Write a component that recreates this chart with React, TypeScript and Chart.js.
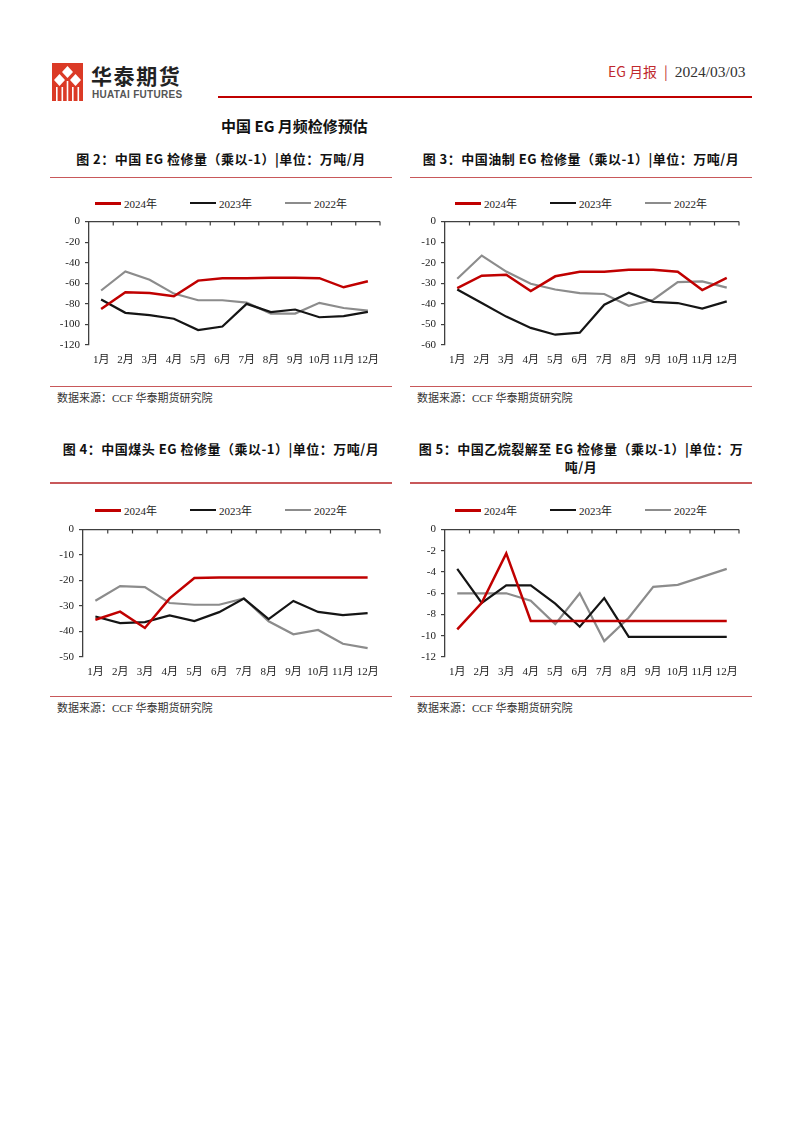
import React, { useEffect, useRef } from "react";
import { Chart, registerables } from "chart.js";

Chart.register(...registerables);

// ---------- data ----------
const months = ["1月", "2月", "3月", "4月", "5月", "6月", "7月", "8月", "9月", "10月", "11月", "12月"];
const seriesNames = ["2024年", "2023年", "2022年"];

// 图2 中国EG检修量（乘以-1）
const eg2024 = [-85, -68.7, -69.4, -72.6, -57.4, -55.2, -55, -54.5, -54.5, -55, -63.9, -58];
const eg2023 = [-75.8, -88.7, -91, -94.5, -105.5, -102, -80, -88, -85.5, -93, -92, -87.8];
const eg2022 = [-67, -48.4, -56.5, -70, -76.5, -76.5, -78.7, -89.4, -89.4, -79, -84, -86.5];

// 图3 中国油制EG检修量
const oil2024 = [-32.3, -26.3, -25.8, -33.8, -26.6, -24.4, -24.4, -23.4, -23.4, -24.4, -33.3, -27.4];
const oil2023 = [-33, -39.6, -46.2, -51.7, -55, -54, -40.4, -34.6, -39, -39.6, -42.3, -38.8];
const oil2022 = [-27.8, -16.5, -24.3, -30.2, -33, -34.8, -35.2, -40.9, -38, -29.4, -29.1, -32.1];

// 图4 中国煤头EG检修量
const coal2024 = [-35.4, -32.2, -38.6, -27, -19, -18.8, -18.8, -18.8, -18.8, -18.8, -18.8, -18.8];
const coal2023 = [-34.1, -36.7, -36.3, -33.7, -35.9, -32.4, -27.1, -35.1, -28, -32.3, -33.6, -32.8];
const coal2022 = [-27.9, -22.2, -22.6, -28.8, -29.5, -29.5, -27, -36, -41.1, -39.4, -44.8, -46.5];

// 图5 中国乙烷裂解至EG检修量
const eth2024 = [-9.4, -6.9, -2.24, -8.6, -8.6, -8.6, -8.6, -8.6, -8.6, -8.6, -8.6, -8.6];
const eth2023 = [-3.7, -6.9, -5.26, -5.26, -6.97, -9.15, -6.45, -10.1, -10.1, -10.1, -10.1, -10.1];
const eth2022 = [-6.0, -6.0, -6.0, -6.7, -8.9, -6.0, -10.5, -8.3, -5.4, -5.2, -4.45, -3.7];

// ---------- styles ----------
const RED = "#C00000";
const BLACK = "#151515";
const GRAY = "#8C8C8C";
const AXIS = "#404040";
const RULE = "#C8585A";
const SERIF = "'Liberation Serif', 'Times New Roman', 'Noto Sans CJK SC', serif";
const SANS = "'Noto Sans CJK SC', 'Noto Sans', sans-serif";

const lineColors = [RED, BLACK, GRAY];
const lineWidths = [2.5, 2.2, 2.2];

const zeroLinePlugin = {
  id: "zeroLine",
  afterDraw(chart: any) {
    const { ctx, chartArea, scales } = chart;
    const y = scales.y.getPixelForValue(0);
    const { left, right } = chartArea;
    const n = chart.data.labels.length;
    ctx.save();
    ctx.strokeStyle = AXIS;
    ctx.lineWidth = 1.2;
    ctx.beginPath();
    ctx.moveTo(left, y);
    ctx.lineTo(right, y);
    for (let i = 1; i <= n; i++) {
      const x = left + ((right - left) * i) / n;
      ctx.moveTo(x, y);
      ctx.lineTo(x, y + 4);
    }
    ctx.stroke();
    ctx.restore();
  },
};

type ChartProps = {
  left: number;
  top: number;
  width: number;
  height: number;
  yw: number;
  plotW: number;
  min: number;
  max: number;
  step: number;
  series: number[][];
};

function LineChart(p: ChartProps) {
  const ref = useRef<HTMLCanvasElement | null>(null);
  useEffect(() => {
    if (!ref.current) return;
    const chart = new Chart(ref.current, {
      type: "line",
      data: {
        labels: months,
        datasets: p.series.map((s, i) => ({
          label: seriesNames[i],
          data: s,
          borderColor: lineColors[i],
          backgroundColor: lineColors[i],
          borderWidth: lineWidths[i],
          pointRadius: 0,
          tension: 0,
          fill: false,
        })),
      },
      options: {
        animation: false,
        responsive: false,
        devicePixelRatio: 1,
        layout: { padding: { top: 10, right: p.width - p.yw - p.plotW, bottom: 0, left: 0 } },
        plugins: { legend: { display: false }, tooltip: { enabled: false } },
        scales: {
          x: {
            type: "category",
            offset: true,
            grid: { display: false },
            border: { display: false },
            ticks: {
              color: "#222",
              font: { family: SERIF, size: 11 },
              padding: 1,
              maxRotation: 0,
              autoSkip: false,
            },
            afterFit: (scale: any) => {
              scale.height = 25;
            },
          },
          y: {
            min: p.min,
            max: p.max,
            border: { display: true, color: AXIS, width: 1.3 },
            grid: { display: true, drawOnChartArea: false, drawTicks: true, tickLength: 4, color: AXIS, lineWidth: 1.2 },
            ticks: {
              stepSize: p.step,
              color: "#222",
              font: { family: SERIF, size: 11 },
              padding: 5,
            },
            afterFit: (scale: any) => {
              scale.width = p.yw;
            },
          },
        },
      },
      plugins: [zeroLinePlugin],
    } as any);
    return () => chart.destroy();
  }, []);
  return (
    <canvas
      ref={ref}
      width={p.width}
      height={p.height}
      style={{ position: "absolute", left: p.left, top: p.top, width: p.width, height: p.height }}
    />
  );
}

function Legend({ left, width, top }: { left: number; width: number; top: number }) {
  return (
    <div
      style={{
        position: "absolute",
        left,
        width,
        top,
        height: 14,
        display: "flex",
        justifyContent: "center",
        alignItems: "center",
        gap: 33,
        fontFamily: SERIF,
        fontSize: 11,
        color: "#222",
      }}
    >
      {seriesNames.map((n, i) => (
        <div key={n} style={{ display: "flex", alignItems: "center" }}>
          <span style={{ display: "inline-block", width: 26, height: i === 0 ? 3 : 2.5, background: lineColors[i], marginRight: 3 }} />
          <span>{n}</span>
        </div>
      ))}
    </div>
  );
}

function Title({ left, width, top, lines }: { left: number; width: number; top: number; lines: string[] }) {
  return (
    <div
      style={{
        position: "absolute",
        left,
        width,
        top,
        textAlign: "center",
        fontFamily: SANS,
        fontWeight: 700,
        fontSize: 13,
        lineHeight: "18px",
        letterSpacing: 0.5,
        color: "#111",
        whiteSpace: "nowrap",
      }}
    >
      {lines.map((l) => (
        <div key={l}>{l}</div>
      ))}
    </div>
  );
}

function Rule({ left, width, top, h = 1.5, color = RULE }: { left: number; width: number; top: number; h?: number; color?: string }) {
  return <div style={{ position: "absolute", left, width, top, height: h, background: color }} />;
}

function Source({ left, top }: { left: number; top: number }) {
  return (
    <div style={{ position: "absolute", left, top, fontFamily: SERIF, fontSize: 11, color: "#333", whiteSpace: "nowrap" }}>
      数据来源：CCF 华泰期货研究院
    </div>
  );
}

function Logo() {
  return (
    <svg width={31} height={38} style={{ position: "absolute", left: 52, top: 63 }} viewBox="0 0 31 38">
      <rect x={0} y={0} width={31} height={38} fill="#DB3A26" />
      <polygon points="15.5,3 21,9 15.5,15 10,9" fill="#fff" />
      <polygon points="7.5,11 13,17 7.5,23 2,17" fill="#fff" />
      <polygon points="23.5,11 29,17 23.5,23 18,17" fill="#fff" />
      <rect x={4} y={24} width={1.6} height={14} fill="#fff" />
      <rect x={9.5} y={24} width={1.6} height={14} fill="#fff" />
      <rect x={14.7} y={18} width={1.6} height={20} fill="#fff" />
      <rect x={20} y={24} width={1.6} height={14} fill="#fff" />
      <rect x={25.5} y={24} width={1.6} height={14} fill="#fff" />
    </svg>
  );
}

export default function App() {
  return (
    <div style={{ position: "absolute", left: 0, top: 0, width: 802, height: 1133, background: "#fff", overflow: "hidden" }}>
      {/* header */}
      <Logo />
      <div style={{ position: "absolute", left: 91, top: 60, fontFamily: SANS, fontWeight: 700, fontSize: 21, letterSpacing: 1.6, color: "#222", whiteSpace: "nowrap" }}>
        华泰期货
      </div>
      <div style={{ position: "absolute", left: 92, top: 89, fontFamily: "'Liberation Sans', Arial, sans-serif", fontWeight: 700, fontSize: 10, color: "#555", whiteSpace: "nowrap", letterSpacing: 0.3 }}>
        HUATAI FUTURES
      </div>
      <div style={{ position: "absolute", left: 608, top: 61, whiteSpace: "nowrap", fontSize: 14 }}>
        <span style={{ fontFamily: SANS, color: "#C0282D" }}>EG 月报</span>
        <span style={{ fontFamily: SANS, color: "#C0282D", margin: "0 7px" }}>|</span>
        <span style={{ fontFamily: SERIF, color: "#333", fontSize: 15.5 }}>2024/03/03</span>
      </div>
      <Rule left={218} width={534} top={96} h={2} color="#C00000" />
      <div style={{ position: "absolute", left: 221, top: 115, fontFamily: SANS, fontWeight: 700, fontSize: 15, color: "#111", whiteSpace: "nowrap" }}>
        中国 EG 月频检修预估
      </div>

      {/* row 1 */}
      <Title left={50} width={342} top={150} lines={["图 2：中国 EG 检修量（乘以-1）|单位：万吨/月"]} />
      <Title left={410} width={342} top={150} lines={["图 3：中国油制 EG 检修量（乘以-1）|单位：万吨/月"]} />
      <Rule left={50} width={342} top={176.5} />
      <Rule left={410} width={342} top={176.5} />
      <Legend left={50} width={342} top={196} />
      <Legend left={410} width={342} top={196} />
      <LineChart left={50} top={210} width={345} height={160} yw={39} plotW={291} min={-120} max={0} step={20} series={[eg2024, eg2023, eg2022]} />
      <LineChart left={410} top={210} width={342} height={160} yw={35} plotW={294} min={-60} max={0} step={10} series={[oil2024, oil2023, oil2022]} />
      <Rule left={50} width={342} top={385.5} h={1.2} />
      <Rule left={410} width={342} top={385.5} h={1.2} />
      <Source left={57} top={389} />
      <Source left={417} top={389} />

      {/* row 2 */}
      <Title left={50} width={342} top={440} lines={["图 4：中国煤头 EG 检修量（乘以-1）|单位：万吨/月"]} />
      <Title left={410} width={342} top={440} lines={["图 5：中国乙烷裂解至 EG 检修量（乘以-1）|单位：万", "吨/月"]} />
      <Rule left={50} width={342} top={482} />
      <Rule left={410} width={342} top={482} />
      <Legend left={50} width={342} top={503} />
      <Legend left={410} width={342} top={503} />
      <LineChart left={50} top={518} width={345} height={164} yw={33} plotW={297} min={-50} max={0} step={10} series={[coal2024, coal2023, coal2022]} />
      <LineChart left={410} top={518} width={342} height={164} yw={35} plotW={294} min={-12} max={0} step={2} series={[eth2024, eth2023, eth2022]} />
      <Rule left={50} width={342} top={696} h={1.2} />
      <Rule left={410} width={342} top={696} h={1.2} />
      <Source left={57} top={699} />
      <Source left={417} top={699} />
    </div>
  );
}
